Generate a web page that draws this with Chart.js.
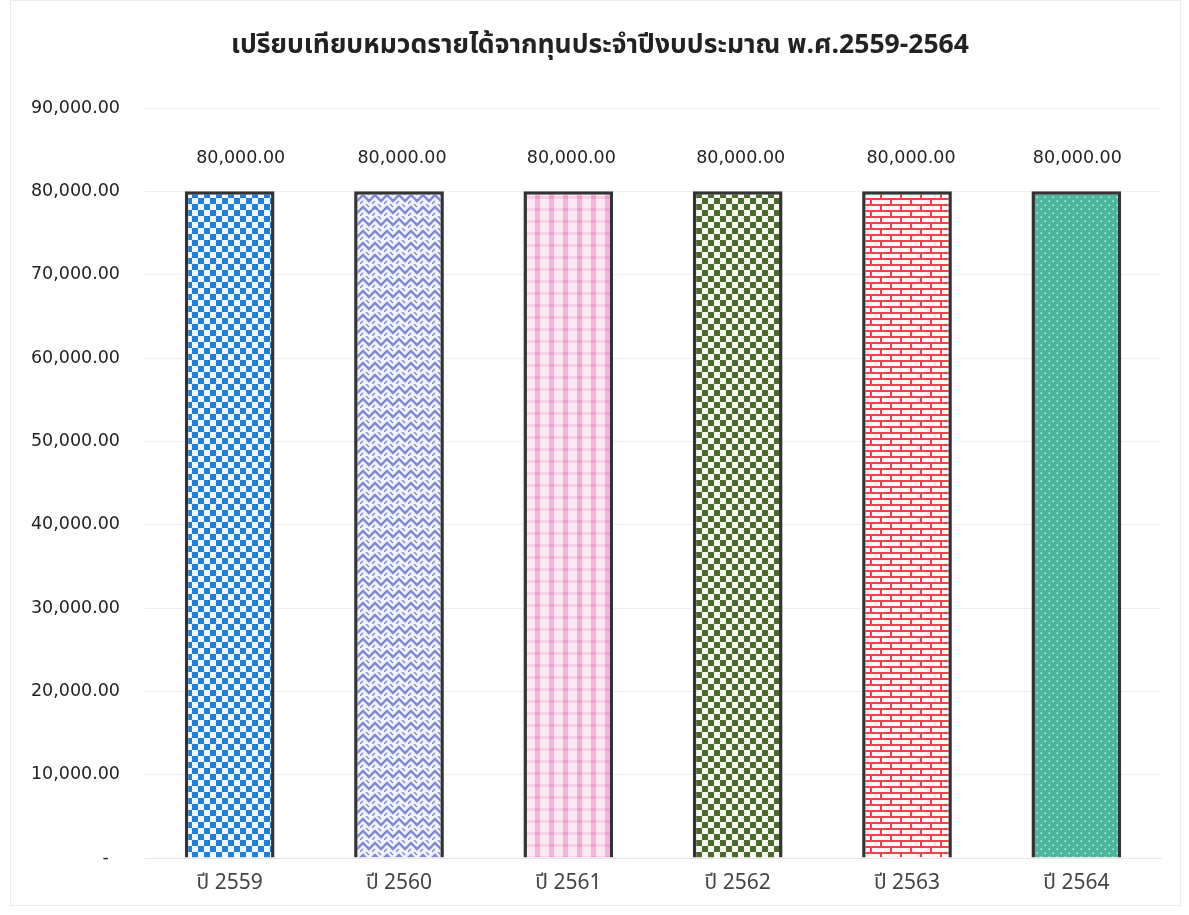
<!DOCTYPE html>
<html>
<head>
<meta charset="utf-8">
<script src="https://cdn.jsdelivr.net/npm/chart.js@4.4.0/dist/chart.umd.min.js"></script>
<style>
html,body{margin:0;padding:0;background:#fff;}
#wrap{width:1189px;height:915px;position:relative;}
</style>
</head>
<body>
<div id="wrap"><canvas id="c" width="1189" height="915"></canvas></div>
<script>
const chartTitle = 'เปรียบเทียบหมวดรายได้จากทุนประจำปีงบประมาณ พ.ศ.2559-2564';
const categories = ['ปี 2559', 'ปี 2560', 'ปี 2561', 'ปี 2562', 'ปี 2563', 'ปี 2564'];
const incomeValues = [80000, 80000, 80000, 80000, 80000, 80000];
const yTicks = [0, 10000, 20000, 30000, 40000, 50000, 60000, 70000, 80000, 90000];

const THAI = '"Noto Sans Thai", "Noto Sans", "DejaVu Sans", sans-serif';
const NUM = '"DejaVu Sans", sans-serif';

function tile(w, h, draw) {
  const c = document.createElement('canvas');
  c.width = w; c.height = h;
  const g = c.getContext('2d');
  draw(g, w, h);
  return g.createPattern(c, 'repeat');
}
function checker(col, bg, s) {
  return tile(s * 2, s * 2, (g) => {
    g.fillStyle = bg; g.fillRect(0, 0, s * 2, s * 2);
    g.fillStyle = col; g.fillRect(0, 0, s, s); g.fillRect(s, s, s, s);
  });
}
const patterns = [
  checker('#1f7fdc', '#f2f8ff', 6),
  tile(12, 12, (g) => {
    g.fillStyle = '#f0f2fc'; g.fillRect(0, 0, 12, 12);
    g.strokeStyle = '#7f88d6'; g.lineWidth = 2.4;
    g.beginPath();
    g.moveTo(-3, 9); g.lineTo(3, 3); g.lineTo(9, 9); g.lineTo(15, 3);
    g.moveTo(-3, 21); g.lineTo(3, 15); g.lineTo(9, 21); g.lineTo(15, 15);
    g.moveTo(-3, -3); g.lineTo(3, -9); g.lineTo(9, -3); g.lineTo(15, -9);
    g.stroke();
    g.lineWidth = 1.4;
    g.beginPath();
    g.moveTo(0, 12); g.lineTo(3, 9); g.moveTo(6, 0); g.lineTo(9, 3);
    g.stroke();
  }),
  tile(14, 12, (g) => {
    g.fillStyle = '#fde9f4'; g.fillRect(0, 0, 14, 12);
    g.fillStyle = '#f5b3da'; g.fillRect(3, 0, 5, 12);
    g.fillStyle = '#f9cfe7'; g.fillRect(0, 4, 14, 3);
    g.fillStyle = '#ef9fcf'; g.fillRect(3, 4, 5, 3);
  }),
  checker('#4b6a2b', '#f4f8ee', 6),
  tile(20, 12, (g) => {
    g.fillStyle = '#fff6f6'; g.fillRect(0, 0, 20, 12);
    g.fillStyle = '#f0404f';
    g.fillRect(0, 0, 20, 2); g.fillRect(0, 6, 20, 2);
    g.fillRect(0, 0, 2, 6); g.fillRect(10, 6, 2, 6);
  }),
  tile(8, 8, (g) => {
    g.fillStyle = '#4bb59d'; g.fillRect(0, 0, 8, 8);
    g.fillStyle = '#7fcdb9'; g.fillRect(0, 0, 2, 2); g.fillRect(4, 4, 2, 2);
    g.fillStyle = '#e6f7f2'; g.fillRect(1, 1, 1, 1); g.fillRect(5, 5, 1, 1);
  })
];

function fmt(v) {
  return v.toLocaleString('en-US', { minimumFractionDigits: 2, maximumFractionDigits: 2 });
}

const valueLabels = {
  id: 'valueLabels',
  afterDatasetsDraw(chart) {
    const ctx = chart.ctx;
    const meta = chart.getDatasetMeta(0);
    const nudge = [11, 3, 3, 3, 4, 1];
    ctx.save();
    ctx.font = '17.5px ' + NUM;
    ctx.fillStyle = '#222';
    ctx.textAlign = 'center';
    ctx.textBaseline = 'bottom';
    meta.data.forEach((bar, i) => {
      ctx.fillText(fmt(chart.data.datasets[0].data[i]), bar.x + (nudge[i] || 0), bar.y - 24);
    });
    ctx.restore();
  }
};
const titlePlugin = {
  id: 'titleDraw',
  afterDraw(chart) {
    const ctx = chart.ctx;
    ctx.save();
    ctx.font = 'bold 26.5px ' + THAI;
    ctx.fillStyle = '#222';
    ctx.textAlign = 'center';
    ctx.textBaseline = 'middle';
    ctx.fillText(chartTitle, 600, 48);
    ctx.strokeStyle = '#ececec';
    ctx.lineWidth = 1;
    ctx.strokeRect(10.5, 0.5, 1170, 905);
    ctx.restore();
  }
};

new Chart(document.getElementById('c'), {
  type: 'bar',
  data: {
    labels: categories,
    datasets: [{
      data: incomeValues,
      backgroundColor: patterns,
      borderColor: '#333333',
      borderWidth: 3.5,
      categoryPercentage: 1,
      barPercentage: 0.53
    }]
  },
  plugins: [valueLabels, titlePlugin],
  options: {
    responsive: false,
    animation: false,
    devicePixelRatio: 1,
    layout: { padding: { top: 108, right: 28, bottom: 0, left: 0 } },
    plugins: { legend: { display: false }, tooltip: { enabled: false } },
    scales: {
      x: {
        grid: { display: false, drawTicks: false },
        border: { color: '#e6e6e6' },
        ticks: { color: '#444', font: { family: THAI, size: 21 }, padding: 14 },
        afterFit(s) { s.height = 57; }
      },
      y: {
        min: 0, max: 90000,
        afterBuildTicks(s) { s.ticks = yTicks.map(v => ({ value: v })); },
        grid: { color: '#efefef', drawTicks: false },
        border: { display: false },
        ticks: {
          color: '#222', font: { family: NUM, size: 17.5 }, padding: 25,
          callback: (v) => v === 0 ? '-  ' : fmt(v)
        },
        afterFit(s) { s.width = 145; }
      }
    }
  }
});
</script>
</body>
</html>
